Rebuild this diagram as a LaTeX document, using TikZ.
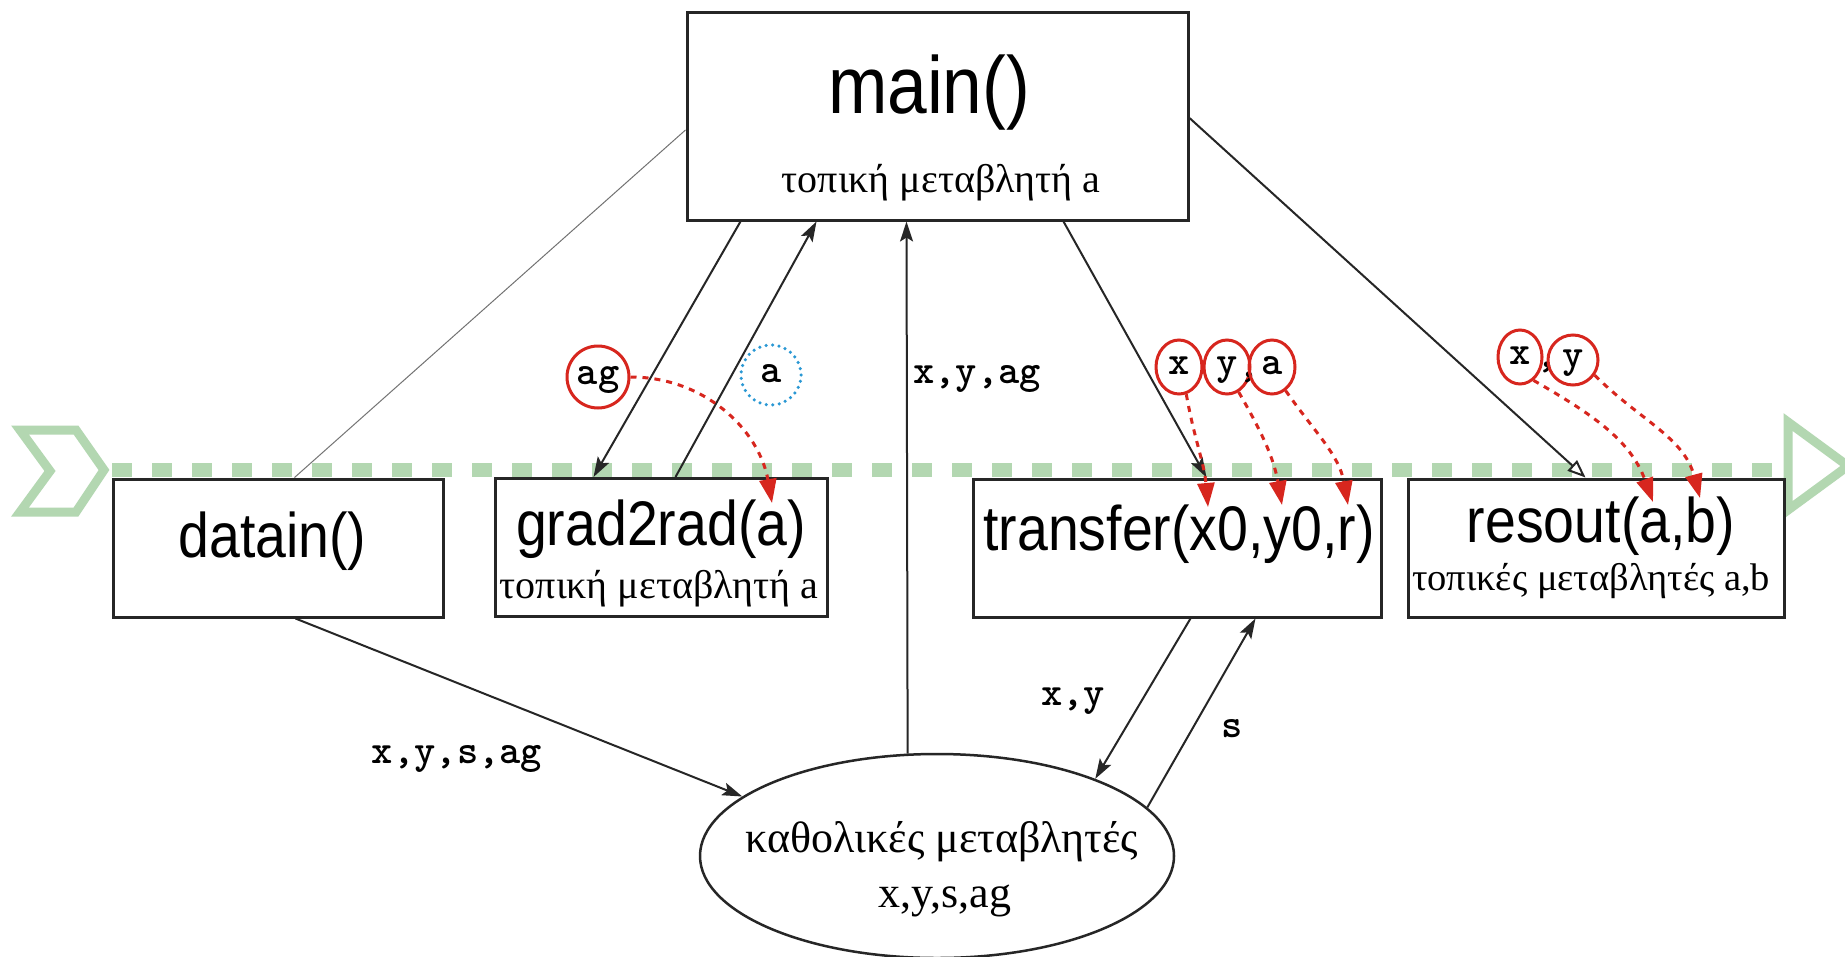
\documentclass[tikz,border=0pt]{standalone}
\usepackage{fontspec}
\setmainfont{Liberation Serif}
\newfontfamily\fnfont[FakeStretch=0.88]{Liberation Sans}
\usepackage{tikz}
\usetikzlibrary{arrows.meta,positioning,shapes.geometric,calc}
\definecolor{cgreen}{HTML}{B3D7B1}
\definecolor{cred}{HTML}{D7261E}
\definecolor{cblue}{HTML}{2A98D4}

\begin{document}
\begin{tikzpicture}[x=1pt,y=-1pt,
  fn/.style={draw=black!85,line width=3pt,fill=white,minimum height=138pt,inner sep=0pt},
  ttl/.style={font=\fnfont\fontsize{63}{63}\selectfont,anchor=base,inner sep=0pt},
  sub/.style={font=\fontsize{40}{40}\selectfont,anchor=base,inner sep=0pt},
  var/.style={font=\ttfamily\bfseries\fontsize{40.5}{41}\selectfont,anchor=base,inner sep=0pt},
  rc/.style={draw=cred,line width=3pt,ellipse,inner sep=0pt,text height=20pt,text depth=6pt,
    font=\ttfamily\bfseries\fontsize{40.5}{41}\selectfont},
  arr/.style={-{Stealth[length=20pt,width=13pt,inset=4pt]},line width=2pt,black!85},
  pass/.style={-{Triangle[length=24pt,width=17pt]},cred,line width=3pt,dash pattern=on 6pt off 6pt}]
  \useasboundingbox (0,0) rectangle (1845,956);
  \clip (0,0) rectangle (1845,956);
  \fill[white] (0,0) rectangle (1845,956);
  % the track
  \coordinate (trackL) at (112,470);
  \coordinate (trackR) at (1784,470);
  \draw[cgreen,line width=14pt,dash pattern=on 20pt off 20pt] (trackL) -- (trackR);
  \draw[cgreen,line width=9pt,fill=white] (20,430) -- (76,430) -- (104,470) -- (76,512)
    -- (20,512) -- (50,471) -- cycle;
  \draw[cgreen,line width=9pt,fill=white] (1788,422) -- (1848,466) -- (1788,510) -- cycle;
  % main
  \node[fn,minimum width=501pt,minimum height=208pt] (main) at (937.5,116) {};
  \node[ttl,font=\fnfont\fontsize{81}{81}\selectfont] (main-t) at (929,113) {main()};
  \node[sub] (main-s) at (941,192) {τοπική μεταβλητή a};
  % functions
  \node[fn,minimum width=330pt] (datain) at (278,548) {};
  \node[ttl] (datain-t) at (272.5,557) {datain()};
  \node[fn,minimum width=332pt] (grad) at (661,547.5) {};
  \node[ttl] (grad-t) at (661,545) {grad2rad(a)};
  \node[sub] (grad-s) at (659,598) {τοπική μεταβλητή a};
  \node[fn,minimum width=408pt] (transfer) at (1177,548) {};
  \node[ttl] (transfer-t) at (1179,550) {transfer(x0,y0,r)};
  \node[fn,minimum width=376pt] (resout) at (1596,548) {};
  \node[ttl] (resout-t) at (1601,542) {resout(a,b)};
  \node[sub,font=\fontsize{38.5}{38.5}\selectfont] (resout-s) at (1591,590) {τοπικές μεταβλητές a,b};
  % globals
  \node[draw=black!85,line width=2.5pt,ellipse,fill=white,minimum width=474pt,minimum height=204pt,
    inner sep=0pt] (glob) at (937,856) {};
  \node[sub,font=\fontsize{44}{44}\selectfont] (glob-t) at (942,852) {καθολικές μεταβλητές};
  \node[sub,font=\fontsize{44}{44}\selectfont] (glob-v) at (945,907) {x,y,s,ag};
  % calls
  \draw[black!55,line width=1pt] ($(main.west)+(0,14)$) -- ($(datain.north west)+(183,0)$);
  \draw[arr] ($(main.south west)+(55,0)$) -- ($(grad.north west)+(100,0)$);
  \draw[arr] ($(grad.north west)+(182,0)$) -- ($(main.south west)+(131,0)$);
  \draw[arr] (glob.106) -- ($(main.south west)+(221,0)$);
  \draw[arr] ($(main.south west)+(378,0)$) -- ($(transfer.north west)+(235,0)$);
  \draw[-{Triangle[open,length=18pt,width=14pt]},line width=2pt,black!85]
    ($(main.east)+(0,2)$) -- ($(resout.north west)+(179,0)$);
  \draw[arr] ($(datain.south west)+(184,0)$) -- (glob.163);
  \draw[arr] ($(transfer.south west)+(219,0)$) -- (glob.26);
  \draw[arr] (glob.13) -- ($(transfer.south west)+(284,0)$);
  % labels
  \node[var] (l-main) at (977,383) {x,y,ag};
  \node[var] (l-datain) at (457,763) {x,y,s,ag};
  \node[var] (l-xy) at (1073,705) {x,y};
  \node[var] (l-s) at (1232,737) {s};
  % passed values
  \node[rc,minimum width=62pt,minimum height=62pt] (ag) at (598,377) {ag};
  \node[ellipse,draw=cblue,line width=3.5pt,dash pattern=on 0pt off 6.5pt,line cap=round,
    minimum width=60pt,minimum height=60pt,inner sep=0pt,text height=20pt,text depth=6pt,
    font=\ttfamily\bfseries\fontsize{40.5}{41}\selectfont] (a) at (771,375) {a};
  \coordinate (gA) at (772,503);
  \draw[pass] (ag.east) to[out=0,in=100] (gA);
  \node[rc,minimum width=46pt,minimum height=54pt] (tx) at (1179,367) {x};
  \node[rc,minimum width=46pt,minimum height=54pt] (ty) at (1227,367) {y};
  \node[var] (tc) at (1249,377) {,};
  \node[rc,minimum width=46pt,minimum height=54pt] (ta) at (1272,367) {a};
  \coordinate (tX) at (1208,507);
  \coordinate (tY) at (1282,505);
  \coordinate (tA) at (1348,505);
  \draw[pass] (tx.-75) to[out=-80,in=95] (tX);
  \draw[pass] (ty.-65) to[out=-60,in=100] (tY);
  \draw[pass] (ta.-60) to[out=-55,in=100] (tA);
  \node[rc,minimum width=44pt,minimum height=54pt] (rx) at (1520,357) {x};
  \node[var] (rc) at (1547,367) {,};
  \node[rc,minimum width=50pt,minimum height=50pt] (ry) at (1573,360) {y};
  \coordinate (rA) at (1653,502);
  \coordinate (rB) at (1700,498);
  \draw[pass] (rx.-60) to[out=-30,in=110] (rA);
  \draw[pass] (ry.-35) to[out=-45,in=105] (rB);
\end{tikzpicture}
\end{document}
